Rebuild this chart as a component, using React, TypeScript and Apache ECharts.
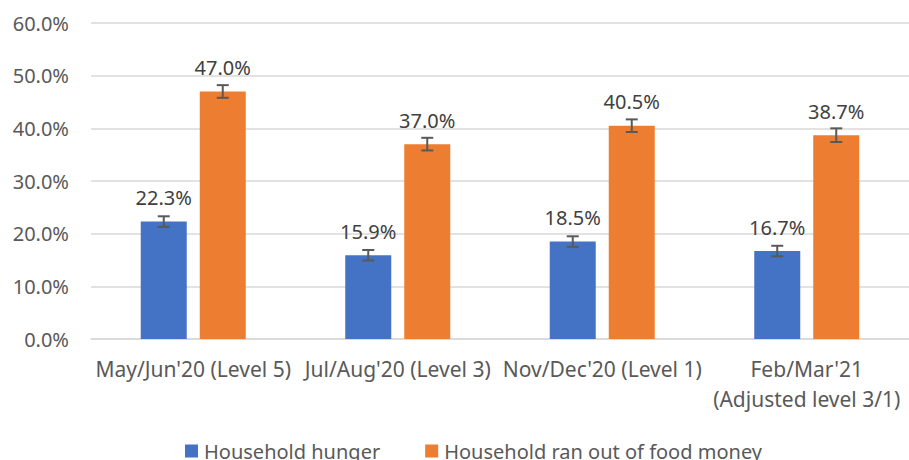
import React, { useEffect, useRef } from "react";
import * as echarts from "echarts";

const categories = [
  "May/Jun'20 (Level 5)",
  "Jul/Aug'20 (Level 3)",
  "Nov/Dec'20 (Level 1)",
  "Feb/Mar'21\n(Adjusted level 3/1)",
];
const hunger = [22.3, 15.9, 18.5, 16.7];
const foodMoney = [47.0, 37.0, 40.5, 38.7];
const hungerErr = [1.0, 1.0, 1.0, 1.0];
const foodMoneyErr = [1.2, 1.2, 1.2, 1.3];
const yTicks = { min: 0, max: 60, interval: 10 };

const FONT = "'Noto Sans', sans-serif";
const BAR_W = 46;
const BAR_GAP = 13;

function errorSeries(name: string, values: number[], errs: number[], side: number) {
  return {
    type: "custom",
    name: name + " error",
    silent: true,
    z: 5,
    data: values.map((v, i) => [i, v - errs[i], v + errs[i]]),
    renderItem: (params: any, api: any) => {
      const x = api.value(0);
      const lo = api.coord([x, api.value(1)]);
      const hi = api.coord([x, api.value(2)]);
      const cx = lo[0] + (side * (BAR_W + BAR_GAP)) / 2;
      const cap = 6;
      const style = { stroke: "#595959", lineWidth: 2 };
      return {
        type: "group",
        children: [
          { type: "line", shape: { x1: cx, y1: hi[1], x2: cx, y2: lo[1] }, style },
          { type: "line", shape: { x1: cx - cap, y1: hi[1], x2: cx + cap, y2: hi[1] }, style },
          { type: "line", shape: { x1: cx - cap, y1: lo[1], x2: cx + cap, y2: lo[1] }, style },
        ],
      };
    },
  };
}

export default function App() {
  const ref = useRef<HTMLDivElement>(null);
  useEffect(() => {
    document.body.style.margin = "0";
    const chart = echarts.init(ref.current!, null, { renderer: "svg" });
    const label = {
      show: true,
      position: "top",
      distance: 14,
      formatter: (p: any) => p.value.toFixed(1) + "%",
      color: "#404040",
      fontSize: 20,
      fontFamily: FONT,
    };
    chart.setOption({
      animation: false,
      backgroundColor: "#ffffff",
      grid: { left: 91, right: -8, top: 23, bottom: 121, containLabel: false },
      legend: {
        bottom: -6,
        left: 180,
        itemWidth: 13,
        itemHeight: 13,
        itemGap: 45,
        icon: "rect",
        textStyle: { color: "#595959", fontSize: 20, fontFamily: FONT, padding: [0, 0, 0, 1] },
        data: ["Household hunger", "Household ran out of food money"],
      },
      xAxis: {
        type: "category",
        data: categories,
        axisLine: { lineStyle: { color: "#d9d9d9", width: 1.5 } },
        axisTick: { show: false },
        axisLabel: {
          color: "#595959",
          fontSize: 21,
          fontFamily: FONT,
          margin: 15,
          lineHeight: 30,
          interval: 0,
        },
      },
      yAxis: {
        type: "value",
        min: yTicks.min,
        max: yTicks.max,
        interval: yTicks.interval,
        axisLabel: {
          color: "#595959",
          fontSize: 20,
          fontFamily: FONT,
          margin: 22,
          formatter: (v: number) => v.toFixed(1) + "%",
        },
        splitLine: { lineStyle: { color: "#d9d9d9", width: 1.5 } },
        axisLine: { show: false },
        axisTick: { show: false },
      },
      series: [
        {
          name: "Household hunger",
          type: "bar",
          data: hunger,
          barWidth: BAR_W,
          barGap: (BAR_GAP / BAR_W) * 100 + "%",
          itemStyle: { color: "#4472c4" },
          label,
        },
        {
          name: "Household ran out of food money",
          type: "bar",
          data: foodMoney,
          barWidth: BAR_W,
          itemStyle: { color: "#ed7d31" },
          label,
        },
        errorSeries("Household hunger", hunger, hungerErr, -1),
        errorSeries("Household ran out of food money", foodMoney, foodMoneyErr, 1),
      ],
    });
    return () => chart.dispose();
  }, []);
  return <div ref={ref} style={{ width: 909, height: 460 }} />;
}
